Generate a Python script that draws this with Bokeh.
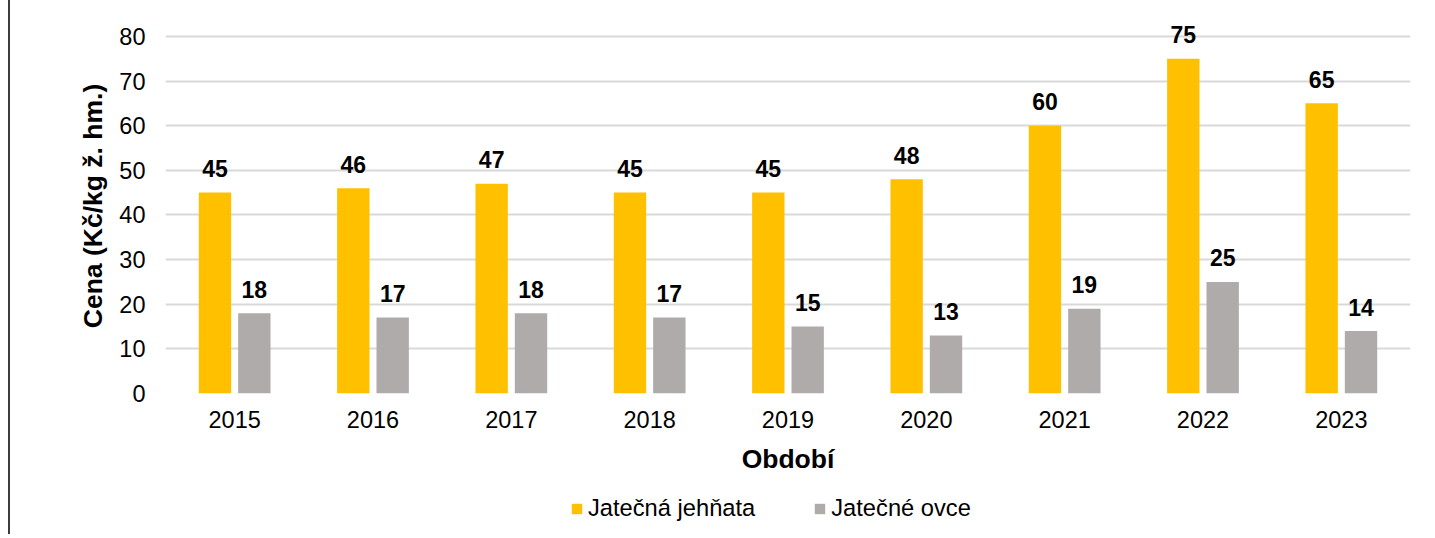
from bokeh.plotting import figure
from bokeh.layouts import column
from bokeh.models import ColumnDataSource, FactorRange, Legend, LegendItem, FixedTicker
from bokeh.transform import dodge
from bokeh.core.properties import value
from bokeh.embed import file_html
from bokeh.resources import INLINE

years = ["2015", "2016", "2017", "2018", "2019", "2020", "2021", "2022", "2023"]
lambs = [45, 46, 47, 45, 45, 48, 60, 75, 65]
sheep = [18, 17, 18, 17, 15, 13, 19, 25, 14]
series_names = ["Jatečná jehňata", "Jatečné ovce"]
y_label = "Cena (Kč/kg ž. hm.)"
x_label = "Období"

YELLOW = "#FFC000"
GRAY = "#AFABAB"
FONT = "Liberation Sans"
W = 1419

src = ColumnDataSource(dict(
    x=years, lambs=lambs, sheep=sheep,
    lambs_txt=[str(v) for v in lambs], sheep_txt=[str(v) for v in sheep],
))

p = figure(
    x_range=FactorRange(*years, range_padding=0), y_range=(0, 84),
    width=W, height=488, output_backend="svg", toolbar_location=None,
    min_border_left=155, min_border_right=19, min_border_top=18, min_border_bottom=95,
)
p.outline_line_color = None
p.background_fill_color = "white"
p.border_fill_color = "white"

off = 0.1423
bw = 0.234
p.vbar(x=dodge("x", -off, range=p.x_range), top="lambs", width=bw, source=src,
       fill_color=YELLOW, line_color=None)
p.vbar(x=dodge("x", off, range=p.x_range), top="sheep", width=bw, source=src,
       fill_color=GRAY, line_color=None)

for col, txt, o in (("lambs", "lambs_txt", -off), ("sheep", "sheep_txt", off)):
    p.text(x=dodge("x", o, range=p.x_range), y=col, text=txt, source=src,
           text_align="center", text_baseline="alphabetic", y_offset=-24,
           text_font=value(FONT), text_font_style="bold", text_font_size="23px",
           text_color="#000000")

p.ygrid.grid_line_color = "#D9D9D9"
p.ygrid.grid_line_width = 1.8
p.xgrid.grid_line_color = None
p.yaxis.ticker = FixedTicker(ticks=list(range(0, 81, 10)))

for ax in (p.xaxis[0], p.yaxis[0]):
    ax.axis_line_color = None
    ax.major_tick_line_color = None
    ax.minor_tick_line_color = None
    ax.major_tick_out = 0
    ax.major_tick_in = 0
    ax.major_label_text_font = FONT
    ax.major_label_text_font_size = "23.5px"
    ax.major_label_text_color = "#000000"
    ax.axis_label_text_font = FONT
    ax.axis_label_text_font_size = "26.5px"
    ax.axis_label_text_font_style = "bold"
    ax.axis_label_text_color = "#000000"

p.xaxis.axis_label = x_label
p.yaxis.axis_label = y_label
p.xaxis.major_label_standoff = 17
p.xaxis.axis_label_standoff = 13
p.yaxis.major_label_standoff = 20
p.yaxis.axis_label_standoff = 8

# legend strip (dummy renderers sit outside the visible range; only their legend glyphs show)
lg = figure(width=W, height=46, x_range=(0, 1), y_range=(0, 1),
            output_backend="svg", toolbar_location=None, min_border=0)
lg.outline_line_color = None
lg.axis.visible = False
lg.grid.visible = False
d1 = lg.vbar(x=[-5], top=[-5], width=0.1, fill_color=YELLOW, line_color=None)
d2 = lg.vbar(x=[-5], top=[-5], width=0.1, fill_color=GRAY, line_color=None)
legend = Legend(
    items=[LegendItem(label=series_names[0], renderers=[d1]),
           LegendItem(label=series_names[1], renderers=[d2])],
    location=(405, 12), orientation="horizontal",
    glyph_width=13, glyph_height=13, label_standoff=5, spacing=58,
    padding=0, margin=0, border_line_color=None, background_fill_alpha=0,
    label_text_font=FONT, label_text_font_size="23.7px", label_text_color="#000000",
)
lg.add_layout(legend, "center")

layout = column(p, lg, spacing=0,
                styles={"border-left": "2px solid #3c3c3c", "margin-left": "8px"})

open("out.html", "w").write(file_html(layout, INLINE))
